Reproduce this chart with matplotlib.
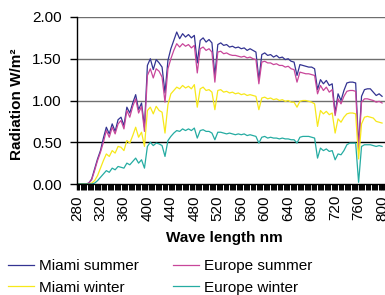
import matplotlib.pyplot as plt
from matplotlib.ticker import MultipleLocator

# -------------------------------------------
# Spectrum sampled every 5 nm (read off chart)

wave = list(range(280, 805, 5))

miami_summer = [
    0.00, 0.00, 0.00, 0.00, 0.01, 0.06, 0.18, 0.30, 0.40, 0.55,
    0.68, 0.60, 0.72, 0.63, 0.77, 0.80, 0.70, 0.92, 0.85, 0.97,
    1.07, 0.89, 0.97, 0.68, 1.42, 1.50, 1.37, 1.49, 1.45, 1.40,
    1.09, 1.48, 1.62, 1.72, 1.82, 1.74, 1.80, 1.76, 1.79, 1.75,
    1.78, 1.45, 1.72, 1.75, 1.70, 1.73, 1.69, 1.30, 1.67, 1.69,
    1.66, 1.67, 1.64, 1.65, 1.63, 1.64, 1.62, 1.63, 1.60, 1.62,
    1.60, 1.58, 1.25, 1.55, 1.57, 1.54, 1.55, 1.52, 1.54, 1.51,
    1.52, 1.49, 1.50, 1.47, 1.46, 1.30, 1.43, 1.42, 1.41, 1.40,
    1.40, 1.38, 1.13, 1.25, 1.20, 1.24, 1.18, 1.20, 0.85, 1.08,
    1.00, 1.12, 1.21, 1.22, 1.22, 1.21, 0.45, 1.05, 1.13, 1.14,
    1.14, 1.10, 1.06, 1.08, 1.05,
]

europe_summer = [
    0.00, 0.00, 0.00, 0.00, 0.01, 0.05, 0.16, 0.28, 0.38, 0.50,
    0.64, 0.56, 0.68, 0.60, 0.72, 0.76, 0.66, 0.88, 0.80, 0.93,
    1.02, 0.85, 0.93, 0.63, 1.30, 1.38, 1.27, 1.38, 1.35, 1.28,
    0.98, 1.38, 1.50, 1.60, 1.68, 1.64, 1.68, 1.65, 1.67, 1.63,
    1.66, 1.33, 1.62, 1.64, 1.60, 1.62, 1.58, 1.22, 1.58, 1.59,
    1.56, 1.57, 1.55, 1.54, 1.54, 1.53, 1.52, 1.53, 1.51, 1.52,
    1.50, 1.49, 1.20, 1.46, 1.47, 1.45, 1.45, 1.43, 1.44, 1.42,
    1.42, 1.40, 1.41, 1.38, 1.37, 1.22, 1.34, 1.33, 1.32, 1.32,
    1.31, 1.30, 1.08, 1.18, 1.12, 1.16, 1.10, 1.13, 0.82, 1.02,
    0.96, 1.05, 1.11, 1.12, 1.12, 1.11, 0.40, 0.98, 1.02, 1.02,
    1.01, 1.00, 0.98, 0.99, 0.97,
]

miami_winter = [
    0.00, 0.00, 0.00, 0.00, 0.00, 0.01, 0.04, 0.10, 0.19, 0.28,
    0.36, 0.33, 0.40, 0.37, 0.45, 0.44, 0.40, 0.52, 0.49, 0.58,
    0.68, 0.56, 0.62, 0.45, 0.88, 0.92, 0.84, 0.93, 0.88, 0.86,
    0.61, 0.95, 1.08, 1.12, 1.16, 1.14, 1.18, 1.15, 1.17, 1.14,
    1.19, 0.92, 1.14, 1.16, 1.12, 1.13, 1.10, 0.89, 1.12, 1.13,
    1.10, 1.11, 1.09, 1.10, 1.08, 1.09, 1.07, 1.08, 1.06, 1.07,
    1.06, 1.05, 0.89, 1.03, 1.04, 1.02, 1.03, 1.01, 1.02, 1.00,
    1.01, 0.99, 1.00, 0.98, 0.98, 0.92, 0.99, 1.00, 1.00, 0.99,
    0.98, 0.96, 0.69, 0.88, 0.84, 0.87, 0.83, 0.85, 0.61, 0.78,
    0.74, 0.80, 0.84, 0.85, 0.85, 0.84, 0.30, 0.72, 0.80, 0.81,
    0.80, 0.79, 0.75, 0.74, 0.73,
]

europe_winter = [
    0.00, 0.00, 0.00, 0.00, 0.00, 0.00, 0.01, 0.04, 0.08, 0.12,
    0.16, 0.14, 0.19, 0.17, 0.21, 0.20, 0.19, 0.25, 0.23, 0.27,
    0.31, 0.25, 0.29, 0.19, 0.45, 0.50, 0.46, 0.49, 0.48, 0.46,
    0.33, 0.52, 0.57, 0.61, 0.64, 0.63, 0.66, 0.64, 0.66, 0.64,
    0.67, 0.55, 0.64, 0.65, 0.63, 0.63, 0.61, 0.53, 0.62, 0.62,
    0.61, 0.60, 0.61, 0.60, 0.59, 0.60, 0.59, 0.60, 0.58, 0.59,
    0.58, 0.57, 0.49, 0.56, 0.57, 0.55, 0.56, 0.55, 0.55, 0.54,
    0.55, 0.54, 0.54, 0.53, 0.53, 0.49, 0.56, 0.57, 0.57, 0.57,
    0.56, 0.55, 0.31, 0.43, 0.40, 0.42, 0.39, 0.40, 0.29, 0.36,
    0.35, 0.40, 0.47, 0.49, 0.49, 0.49, 0.02, 0.45, 0.47, 0.47,
    0.47, 0.46, 0.45, 0.46, 0.45,
]

series = [
    ("Miami summer", miami_summer, "#343492"),
    ("Europe summer", europe_summer, "#c8469a"),
    ("Miami winter", miami_winter, "#f7e81a"),
    ("Europe winter", europe_winter, "#25aca2"),
]

# -------------------
# Set font parameters

plt.rcParams['font.family'] = ['Liberation Sans', 'DejaVu Sans']
plt.rcParams['font.size'] = 11

fig = plt.figure(figsize=(3.85, 2.95), dpi=100)
ax = fig.add_axes([77 / 385, 111 / 295, 1 - 77 / 385, 167 / 295])

# ---------------
# Draw the curves

lines = {}
for name, values, color in series:
    lines[name], = ax.plot(wave, values, color=color, lw=0.9, label=name)

# -----------------
# Axes and gridding

ax.set_xlim(280, 805)
ax.set_ylim(0, 2)
ax.set_yticks([0, 0.5, 1.0, 1.5, 2.0])
ax.set_yticklabels(["0.00", "0.50", "1.00", "1.50", "2.00"])
ax.set_xticks(list(range(280, 801, 40)))
ax.set_xticklabels([str(v) for v in range(280, 801, 40)], rotation=90)
ax.xaxis.set_minor_locator(MultipleLocator(2))

for y, c in [(0.5, "black"), (1.0, "#6e6e6e"), (1.5, "#6e6e6e"), (2.0, "#6e6e6e")]:
    ax.axhline(y, color=c, lw=1.0, zorder=0)

for spine in ['top', 'right']:
    ax.spines[spine].set_visible(False)
ax.spines['left'].set_linewidth(1.0)
ax.spines['bottom'].set_linewidth(1.0)

ax.tick_params(axis='y', length=5, width=1.0, pad=6)
ax.tick_params(axis='x', which='major', length=4, width=1.0, pad=4)
ax.tick_params(axis='x', which='minor', length=4, width=0.7)

# ylabel anchor is its right edge once rotated
ax.set_ylabel("Radiation W/m²", fontweight='bold')
ax.yaxis.set_label_coords(-(77 - 24) / 308, (184 - 104) / 167)
ax.set_xlabel("Wave length nm", fontweight='bold')
ax.xaxis.set_label_coords((224 - 77) / 308, -(231 - 184) / 167)

# -------------------------------------------------
# Legend below plot, rows: summer first then winter

order = ["Miami summer", "Miami winter", "Europe summer", "Europe winter"]
fig.legend([lines[n] for n in order], order,
           loc='upper left', bbox_to_anchor=(8 / 385, 36 / 295), ncol=2,
           frameon=False, handlelength=1.7, handletextpad=0.35,
           columnspacing=2.2, labelspacing=0.5, borderpad=0, borderaxespad=0)

fig.savefig("out.png", dpi=100)
